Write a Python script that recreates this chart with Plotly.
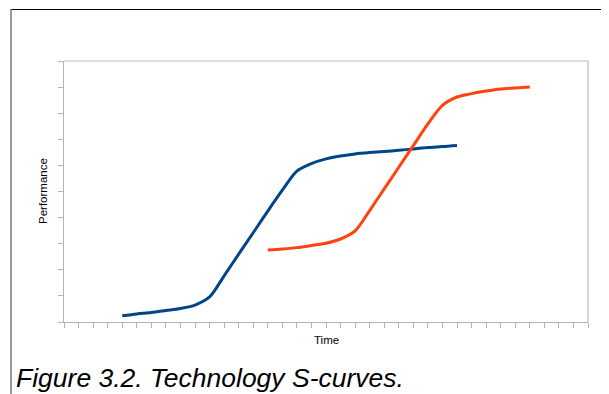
import plotly.graph_objects as go

# Data (x = time units, y = performance units)
blue_x = [4, 5, 6, 7, 8, 9, 10, 11, 12, 13, 14, 15, 16, 17, 18, 19, 20, 21, 22, 23, 24, 25, 26, 27]
blue_y = [0.24, 0.31, 0.36, 0.44, 0.52, 0.65, 0.96, 1.77, 2.60, 3.42, 4.25, 5.05, 5.78, 6.07, 6.25,
          6.36, 6.44, 6.49, 6.53, 6.58, 6.63, 6.69, 6.72, 6.76]
orange_x = [14, 15, 16, 17, 18, 19, 20, 21, 22, 23, 24, 25, 26, 27, 28, 29, 30, 31, 32]
orange_y = [2.76, 2.80, 2.85, 2.93, 3.02, 3.18, 3.49, 4.27, 5.10, 5.93, 6.76, 7.59, 8.30, 8.62,
            8.75, 8.85, 8.93, 8.97, 9.00]

x_title = "Time"
y_title = "Performance"
caption = "Figure 3.2. Technology S-curves."

# the page body has an 8px margin, so figure pixels = window pixels - 8
OFF = 8
W, H = 609 - OFF, 394 - OFF
L, R, T, B = 64 - OFF, 588 - OFF, 61 - OFF, 322 - OFF


def px(x):
    return (x - OFF - L) / (R - L)


def py(y):
    return (B - (y - OFF)) / (B - T)


fig = go.Figure()
fig.add_trace(go.Scatter(x=blue_x, y=blue_y, mode="lines",
                         line=dict(color="#004586", width=3, shape="spline", smoothing=0.8),
                         showlegend=False, hoverinfo="skip"))
fig.add_trace(go.Scatter(x=orange_x, y=orange_y, mode="lines",
                         line=dict(color="#ff420e", width=3, shape="spline", smoothing=0.8),
                         showlegend=False, hoverinfo="skip"))

axis_col = "#b3b3b3"
fig.update_xaxes(range=[0, 36], dtick=1, tick0=0, ticks="outside", ticklen=5, tickcolor=axis_col,
                 showticklabels=False, showgrid=False, zeroline=False,
                 showline=True, linecolor=axis_col, linewidth=1)
fig.update_yaxes(range=[0, 10], dtick=1, tick0=0, ticks="outside", ticklen=5, tickcolor=axis_col,
                 showticklabels=False, showgrid=False, zeroline=False,
                 showline=True, linecolor=axis_col, linewidth=1)

shapes = [
    # plot wall top and right borders
    dict(type="line", xref="paper", yref="paper", x0=0, x1=1, y0=1, y1=1,
         line=dict(color="#d0d0d0", width=1.5), layer="below"),
    dict(type="line", xref="paper", yref="paper", x0=1, x1=1, y0=0, y1=1,
         line=dict(color="#c8c8c8", width=1.5), layer="below"),
    # outer frame
    dict(type="line", xref="paper", yref="paper", x0=px(11), x1=px(612), y0=py(9.5), y1=py(9.5),
         line=dict(color="#000000", width=1.2)),
    dict(type="line", xref="paper", yref="paper", x0=px(11), x1=px(11), y0=py(9), y1=py(400),
         line=dict(color="#777777", width=1.5)),
]

annotations = [
    dict(text=x_title, xref="paper", yref="paper", x=px(326), y=py(340), xanchor="center",
         yanchor="middle", showarrow=False, font=dict(family="Liberation Sans", size=11.5, color="#000")),
    dict(text=y_title, xref="paper", yref="paper", x=px(42.5), y=py(191.5), xanchor="center",
         yanchor="middle", textangle=-90, showarrow=False,
         font=dict(family="Liberation Sans", size=11.5, color="#000")),
    dict(text="<i>" + caption + "</i>", xref="paper", yref="paper", x=px(14), y=py(378),
         xanchor="left", yanchor="middle", showarrow=False,
         font=dict(family="Liberation Sans", size=26.5, color="#000")),
]

fig.update_layout(width=W, height=H, margin=dict(l=L, r=W - R, t=T, b=H - B, pad=0),
                  paper_bgcolor="white", plot_bgcolor="white",
                  shapes=shapes, annotations=annotations)

fig.write_html("out.html")
